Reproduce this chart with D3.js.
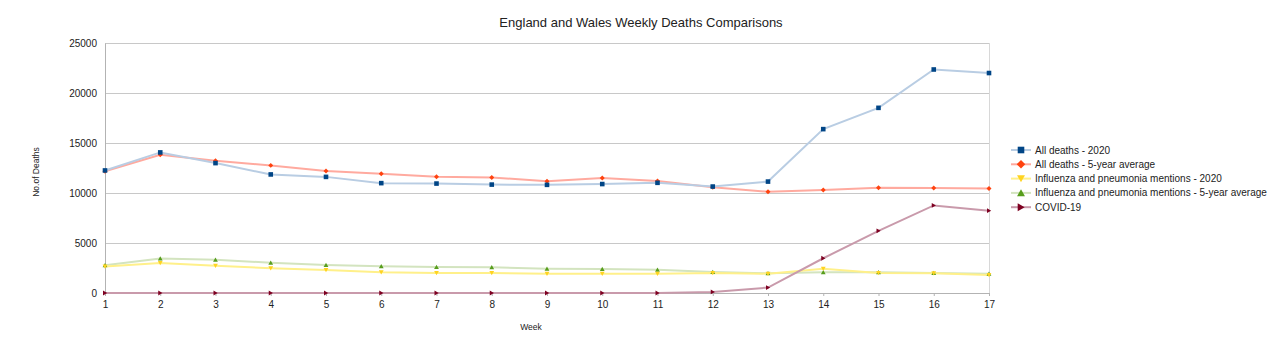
<!DOCTYPE html>
<html><head><meta charset="utf-8">
<script src="https://cdn.jsdelivr.net/npm/d3@7"></script>
<style>body{margin:0;background:#fff;} svg{display:block;font-family:"Liberation Sans",Arial,sans-serif;}</style>
</head><body>
<svg id="c" width="1280" height="357"></svg>
<script>
const weeks = [1,2,3,4,5,6,7,8,9,10,11,12,13,14,15,16,17];
const allDeaths2020 = [12254,14058,12990,11856,11612,10986,10944,10841,10816,10895,11019,10645,11141,16387,18516,22351,21997];
const allDeaths5yr = [12175,13822,13216,12760,12206,11925,11627,11548,11183,11498,11205,10573,10130,10305,10520,10497,10458];
const flu2020 = [2650,3000,2730,2470,2300,2070,2000,2000,1930,1930,1930,2000,1930,2430,2000,1980,1800];
const flu5yr = [2770,3460,3330,3030,2800,2670,2600,2570,2430,2400,2330,2100,1970,2070,2070,2000,1930];
const covid = [0,0,0,0,0,0,0,0,0,0,0,103,539,3475,6213,8758,8237];
const yTicks = [0,5000,10000,15000,20000,25000];
const seriesNames = ["All deaths - 2020","All deaths - 5-year average","Influenza and pneumonia mentions - 2020","Influenza and pneumonia mentions - 5-year average","COVID-19"];

const series = [
  {name:seriesNames[0], values:allDeaths2020, line:"#b9cde3", mark:"#004586", shape:"square"},
  {name:seriesNames[1], values:allDeaths5yr, line:"#ffaa9f", mark:"#ff420e", shape:"diamond"},
  {name:seriesNames[2], values:flu2020, line:"#fff08a", mark:"#ffd320", shape:"down"},
  {name:seriesNames[3], values:flu5yr, line:"#d3e4bf", mark:"#579d1c", shape:"up"},
  {name:seriesNames[4], values:covid, line:"#c99aab", mark:"#7e0021", shape:"right"}
];

const svg = d3.select("#c");
const x = d3.scaleLinear().domain([1,17]).range([105,989]);
const y = d3.scaleLinear().domain([0,25000]).range([293,43]);

svg.append("text").attr("x",641).attr("y",27).attr("text-anchor","middle")
  .attr("font-size",13).attr("fill","#222").text("England and Wales Weekly Deaths Comparisons");

svg.append("g").selectAll("line").data(yTicks).join("line")
  .attr("x1",105).attr("x2",989).attr("y1",d=>y(d)).attr("y2",d=>y(d))
  .attr("stroke","#c8c8c8").attr("stroke-width",1).attr("shape-rendering","crispEdges");
svg.append("line").attr("x1",989).attr("x2",989).attr("y1",y(25000)).attr("y2",y(0))
  .attr("stroke","#d8d8d8").attr("shape-rendering","crispEdges");

const yAxis = d3.axisLeft(y).tickValues(yTicks).tickSize(0).tickPadding(8).tickFormat(d3.format("d"));
const gy = svg.append("g").attr("transform","translate(105,0)").call(yAxis);
gy.select(".domain").attr("stroke","#b3b3b3");
gy.selectAll("text").attr("font-size",10).attr("fill","#222").attr("font-family","Liberation Sans, Arial, sans-serif");

const xAxis = d3.axisBottom(x).tickValues(weeks).tickSize(3).tickPadding(5).tickFormat(d3.format("d"));
const gx = svg.append("g").attr("transform","translate(0,293)").call(xAxis);
gx.select(".domain").attr("stroke","#b3b3b3");
gx.selectAll(".tick line").attr("stroke","#b3b3b3");
gx.selectAll("text").attr("font-size",10).attr("fill","#222").attr("font-family","Liberation Sans, Arial, sans-serif");

svg.append("text").attr("x",531).attr("y",330).attr("text-anchor","middle").attr("font-size",8.5).attr("fill","#222").text("Week");
svg.append("text").attr("transform","translate(39,172) rotate(-90)").attr("text-anchor","middle").attr("font-size",8.5).attr("fill","#222").text("No.of Deaths");

function symbolPath(shape, s){
  switch(shape){
    case "square": return `M${-s},${-s}h${2*s}v${2*s}h${-2*s}Z`;
    case "diamond": return `M0,${-s*1.3}L${s*1.3},0L0,${s*1.3}L${-s*1.3},0Z`;
    case "down": return `M${-s*1.2},${-s}L${s*1.2},${-s}L0,${s*1.1}Z`;
    case "up": return `M${-s*1.2},${s}L${s*1.2},${s}L0,${-s*1.1}Z`;
    case "right": return `M${-s},${-s*1.2}L${-s},${s*1.2}L${s*1.1},0Z`;
  }
}
const markSize = {square:2.3, diamond:1.9, down:2.0, up:2.0, right:2.0};

const line = d3.line().x((d,i)=>x(weeks[i])).y(d=>y(d));
const order = [3,2,1,0,4];
order.forEach(k=>{
  const s = series[k];
  svg.append("path").datum(s.values).attr("d",line).attr("fill","none")
    .attr("stroke",s.line).attr("stroke-width",2);
});
order.forEach(k=>{
  const s = series[k];
  svg.append("g").selectAll("path").data(s.values).join("path")
    .attr("transform",(d,i)=>`translate(${x(weeks[i])},${y(d)})`)
    .attr("d",symbolPath(s.shape, markSize[s.shape])).attr("fill",s.mark);
});

const lg = svg.append("g");
series.forEach((s,i)=>{
  const yy = 150 + i*14.3;
  lg.append("line").attr("x1",1011).attr("x2",1031).attr("y1",yy).attr("y2",yy).attr("stroke",s.line).attr("stroke-width",2);
  lg.append("path").attr("transform",`translate(1021,${yy})`).attr("d",symbolPath(s.shape, 3.3)).attr("fill",s.mark);
  lg.append("text").attr("x",1035).attr("y",yy+3.5).attr("font-size",10).attr("fill","#222").text(s.name);
});
</script>
</body></html>
